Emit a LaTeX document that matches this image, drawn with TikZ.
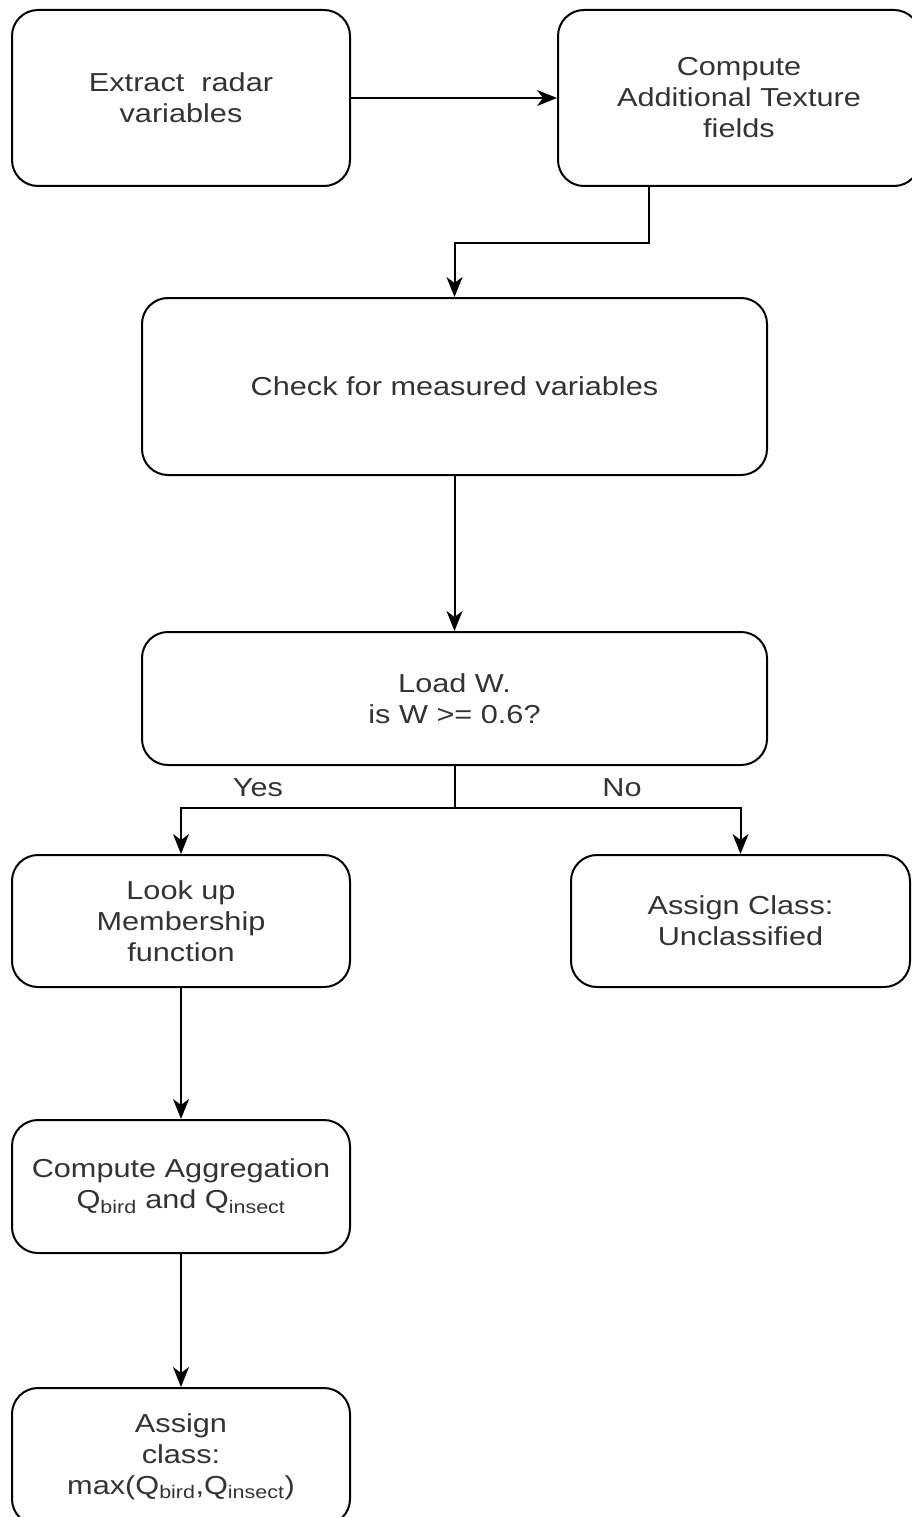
\documentclass[tikz,border=0pt]{standalone}
\usepackage{fontspec}
\setmainfont{Liberation Sans}[FakeStretch=1.18]
\usetikzlibrary{arrows.meta}
\definecolor{txt}{HTML}{333333}
\newcommand{\Qsb}[1]{Q\textsubscript{#1}}
\begin{document}
\begin{tikzpicture}[x=1pt,y=-1pt,
  box/.style={draw=black, line width=2pt, rounded corners=26pt, inner sep=0pt,
    align=center, text=txt, font=\fontsize{26}{31}\selectfont},
  arr/.style={draw=black, line width=2pt, -{Stealth[length=20pt,width=16pt,inset=6pt]}},
  lbl/.style={text=txt, font=\fontsize{26}{31}\selectfont, inner sep=0pt}]
\useasboundingbox (0,0) rectangle (912,1517);
\clip (0,0) rectangle (912,1517);
\node[box, minimum width=338pt, minimum height=176pt] (b1) at (181,98) {Extract\ \ radar\\variables};
\node[box, minimum width=362pt, minimum height=176pt] (b2) at (739,98) {Compute\\Additional Texture\\fields};
\node[box, minimum width=625pt, minimum height=177pt] (b3) at (454.5,386.5) {Check for measured variables};
\node[box, minimum width=625pt, minimum height=133pt] (b4) at (454.5,698.5) {Load W.\\is W >= 0.6?};
\node[box, minimum width=338pt, minimum height=132pt] (b5) at (181,921) {Look up\\Membership\\function};
\node[box, minimum width=339pt, minimum height=132pt] (b6) at (740.5,921) {Assign Class:\\Unclassified};
\node[box, minimum width=338pt, minimum height=133pt] (b7) at (181,1186.5) {Compute Aggregation\\\Qsb{bird} and \Qsb{insect}};
\node[box, minimum width=338pt, minimum height=137pt] (b8) at (181,1456.5) {Assign\\class:\\max(\Qsb{bird},\Qsb{insect})};
\node[lbl] (yes) at (258,788) {Yes};
\node[lbl] (no) at (622,788) {No};
\coordinate (split) at (454.5,808);
\draw[arr] (b1.east) -- (b2.west);
\draw[arr] ([xshift=92pt]b2.south west) -- ++(0,56) -| (b3.north);
\draw[arr] (b3.south) -- (b4.north);
\draw[line width=2pt] (b4.south) -- (split);
\draw[arr] (split) -| (b5.north);
\draw[arr] (split) -| (b6.north);
\draw[arr] (b5.south) -- (b7.north);
\draw[arr] (b7.south) -- (b8.north);
\end{tikzpicture}
\end{document}
